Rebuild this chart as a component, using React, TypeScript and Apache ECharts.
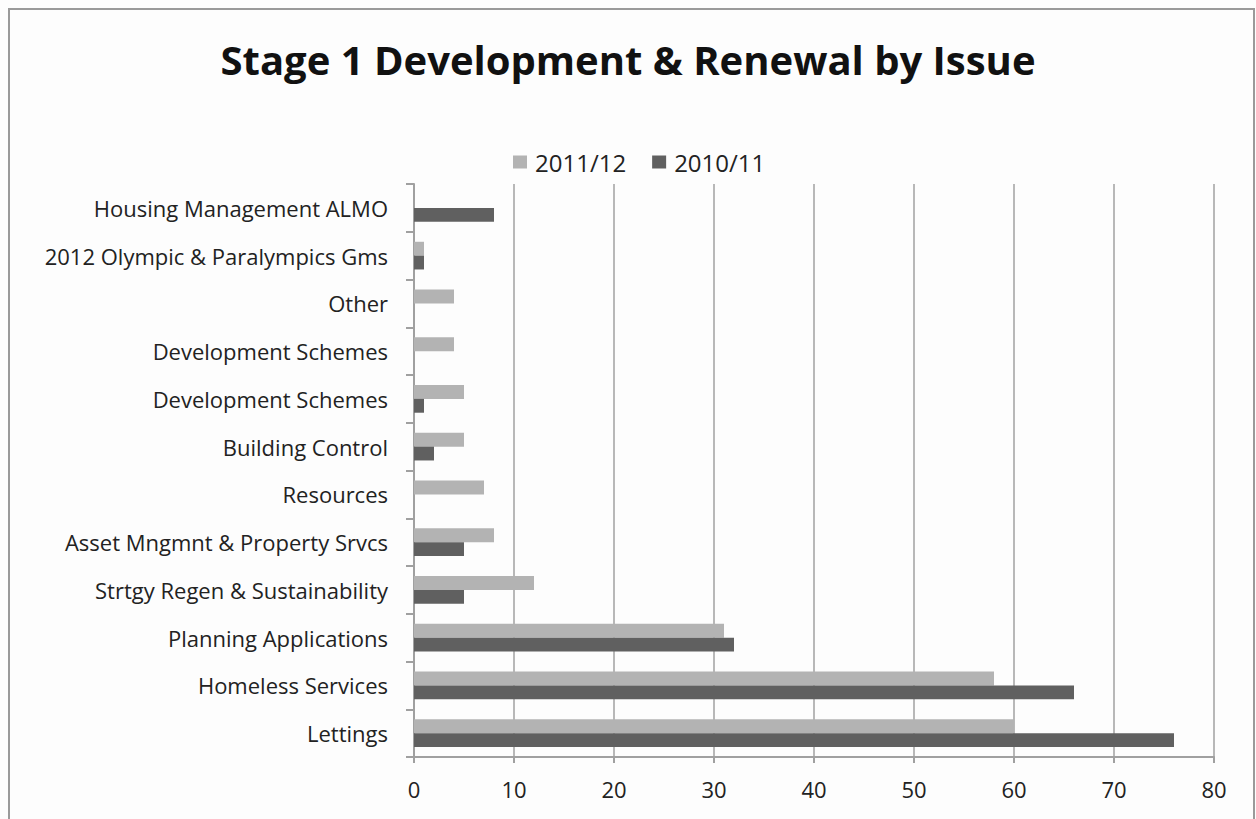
import React, { useEffect, useRef } from "react";
import * as echarts from "echarts";

const categories: string[] = [
  "Lettings",
  "Homeless Services",
  "Planning Applications",
  "Strtgy Regen & Sustainability",
  "Asset Mngmnt & Property Srvcs",
  "Resources",
  "Building Control",
  "Development Schemes",
  "Development Schemes",
  "Other",
  "2012 Olympic & Paralympics Gms",
  "Housing Management ALMO",
];

const values2011: number[] = [60, 58, 31, 12, 8, 7, 5, 5, 4, 4, 1, 0];
const values2010: number[] = [76, 66, 32, 5, 5, 0, 2, 1, 0, 0, 1, 8];

const xTicks: number[] = [0, 10, 20, 30, 40, 50, 60, 70, 80];

const FONT = "'Open Sans', Lato, sans-serif";

export default function App() {
  const ref = useRef<HTMLDivElement>(null);

  useEffect(() => {
    document.body.style.margin = "0";
    if (!ref.current) return;
    const chart = echarts.init(ref.current, null, { renderer: "svg" });
    chart.setOption({
      animation: false,
      backgroundColor: "#fdfdfd",
      title: {
        text: "Stage 1 Development & Renewal by Issue",
        left: "center",
        top: 34,
        textStyle: {
          fontFamily: FONT,
          fontSize: 40,
          fontWeight: "bold",
          color: "#111111",
        },
      },
      legend: {
        top: 145,
        left: 508,
        itemWidth: 14,
        itemHeight: 13,
        itemGap: 26,
        icon: "rect",
        textStyle: {
          fontFamily: FONT,
          fontSize: 24,
          color: "#222222",
          padding: [0, 0, 0, 3],
        },
        data: ["2011/12", "2010/11"],
      },
      graphic: [
        {
          type: "rect",
          shape: { x: 9, y: 9, width: 1245, height: 830 },
          style: { fill: "none", stroke: "#9a9a9a", lineWidth: 2 },
          silent: true,
        },
      ],
      grid: { left: 414, right: 42, top: 184, bottom: 62 },
      xAxis: {
        type: "value",
        min: xTicks[0],
        max: xTicks[xTicks.length - 1],
        interval: 10,
        axisLine: { show: true, lineStyle: { color: "#a0a0a0", width: 2 } },
        axisTick: { show: true, length: 6, lineStyle: { color: "#a0a0a0", width: 2 } },
        splitLine: { show: true, lineStyle: { color: "#b8b8b8", width: 2 } },
        axisLabel: {
          margin: 21,
          fontFamily: FONT,
          fontSize: 22,
          color: "#222222",
        },
      },
      yAxis: {
        type: "category",
        data: categories,
        axisLine: { show: true, lineStyle: { color: "#a0a0a0", width: 2 } },
        axisTick: { show: true, length: 8, lineStyle: { color: "#a0a0a0", width: 2 } },
        splitLine: { show: false },
        axisLabel: {
          margin: 26,
          interval: 0,
          fontFamily: FONT,
          fontSize: 22,
          color: "#222222",
        },
      },
      series: [
        {
          name: "2011/12",
          type: "bar",
          data: values2011,
          barGap: "0%",
          barCategoryGap: "42%",
          itemStyle: { color: "#b3b3b3" },
        },
        {
          name: "2010/11",
          type: "bar",
          data: values2010,
          barGap: "0%",
          barCategoryGap: "42%",
          itemStyle: { color: "#606060" },
        },
      ],
    });
    return () => chart.dispose();
  }, []);

  return (
    <div
      ref={ref}
      style={{ position: "absolute", left: 0, top: 0, width: 1256, height: 819 }}
    />
  );
}
